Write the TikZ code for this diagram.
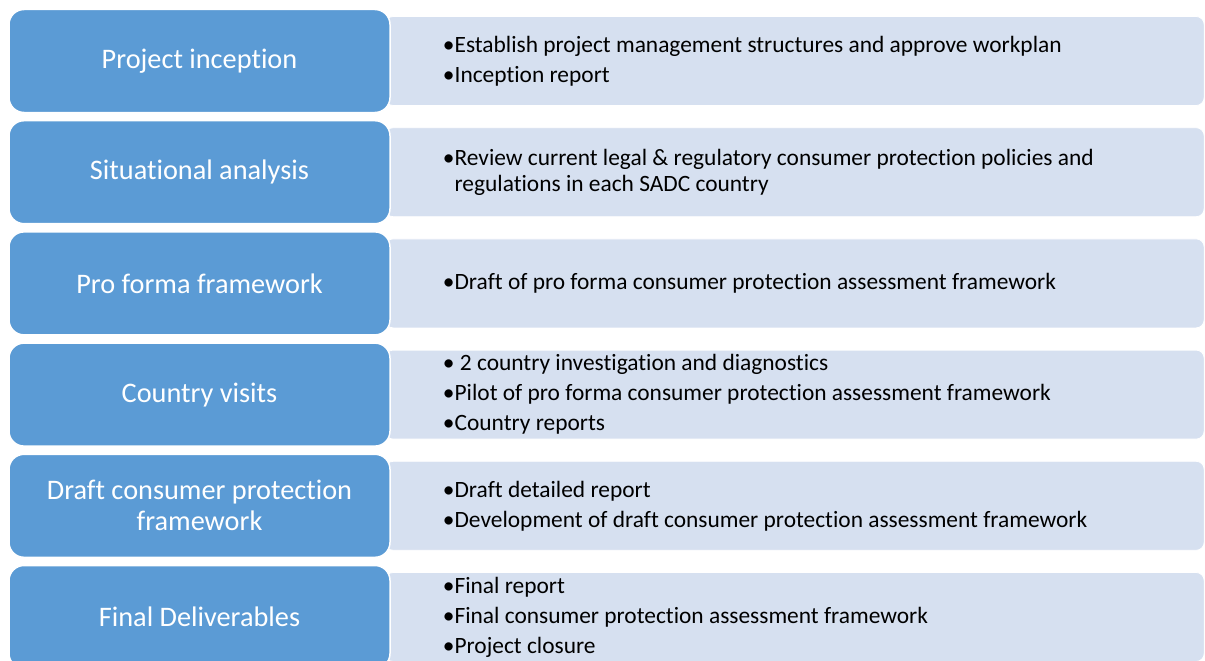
\documentclass[tikz,border=0pt]{standalone}
\usepackage{fontspec}
\setmainfont{Carlito}[Ligatures=NoCommon]
\usepackage{tikz}
\usetikzlibrary{positioning,backgrounds}
\definecolor{stageblue}{HTML}{5B9BD5}
\definecolor{detailblue}{HTML}{D6E0F0}
\tikzset{stage/.style={draw=white, line width=1.5pt, fill=stageblue, rounded corners=15pt,
      minimum width=381pt, minimum height=103pt, inner sep=0pt,
      text=white, align=center, font=\fontsize{28.3}{31}\selectfont}}
\tikzset{detail/.style={draw=white, line width=0.8pt, fill=detailblue, rounded corners=8pt,
      minimum width=819pt, minimum height=89pt, inner sep=0pt}}
\tikzset{items/.style={inner sep=0pt, align=left, text=black, font=\fontsize{23.4}{25.7}\selectfont}}

\begin{document}
\begin{tikzpicture}[x=1pt,y=-1pt]
	\useasboundingbox (0,0) rectangle (1205,661);

	\node[stage] (s1) at (199.5,61) {Project inception};
	\node[stage, below=6.7pt of s1] (s2) {Situational analysis};
	\node[stage, below=6.7pt of s2] (s3) {Pro forma framework};
	\node[stage, below=6.7pt of s3] (s4) {Country visits};
	\node[stage, below=6.7pt of s4] (s5) {Draft consumer protection\\framework};
	\node[stage, below=6.7pt of s5] (s6) {Final Deliverables};

	\begin{pgfonlayer}{background}
	\node[detail, right=-6pt of s1] (d1) {};
	\node[detail, right=-6pt of s2] (d2) {};
	\node[detail, right=-6pt of s3] (d3) {};
	\node[detail, right=-6pt of s4] (d4) {};
	\node[detail, right=-6pt of s5] (d5) {};
	\node[detail, right=-6pt of s6] (d6) {};
	\end{pgfonlayer}

	\node[items, right=52pt of s1] (t1) {•Establish project management structures and approve workplan\\[4.3pt]
		•Inception report};
	\node[items, right=52pt of s2] (t2) {•Review current legal \& regulatory consumer protection policies and\\
		\phantom{•}regulations in each SADC country};
	\node[items, right=52pt of s3] (t3) {•Draft of pro forma consumer protection assessment framework};
	\node[items, right=52pt of s4] (t4) {• 2 country investigation and diagnostics\\[4.3pt]
		•Pilot of pro forma consumer protection assessment framework\\[4.3pt]
		•Country reports};
	\node[items, right=52pt of s5] (t5) {•Draft detailed report\\[4.3pt]
		•Development of draft consumer protection assessment framework};
	\node[items, right=52pt of s6] (t6) {•Final report\\[4.3pt]
		•Final consumer protection assessment framework\\[4.3pt]
		•Project closure};

\end{tikzpicture}
\end{document}
